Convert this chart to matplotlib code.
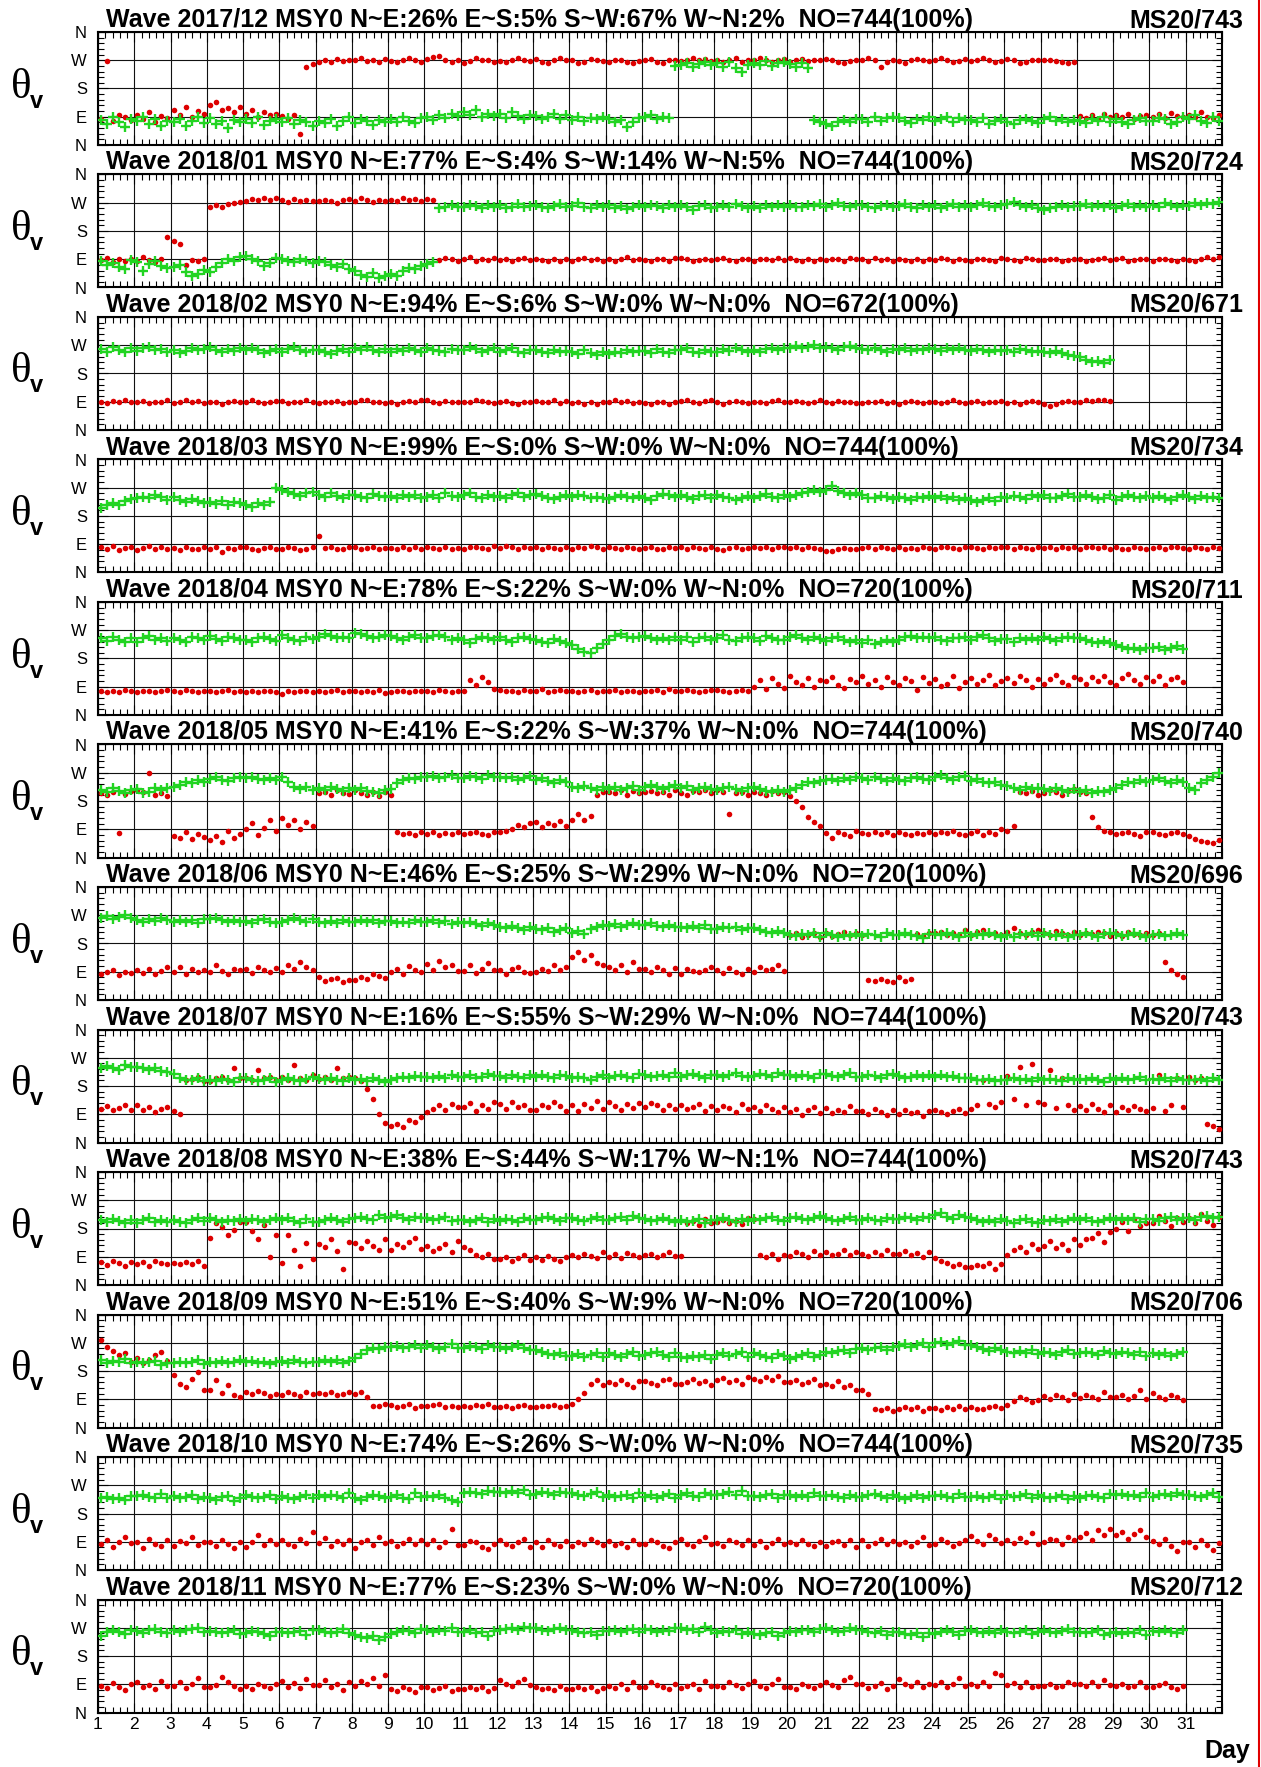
import numpy as np
import matplotlib
matplotlib.use('Agg')
import matplotlib.pyplot as plt
from matplotlib.ticker import MultipleLocator
from matplotlib.lines import Line2D

MONTHS = ['2017/12', '2018/01', '2018/02', '2018/03', '2018/04', '2018/05',
          '2018/06', '2018/07', '2018/08', '2018/09', '2018/10', '2018/11']
PCT_NE = [26, 77, 94, 99, 78, 41, 46, 16, 38, 51, 74, 77]
PCT_ES = [5, 4, 6, 0, 22, 22, 25, 55, 44, 40, 26, 23]
PCT_SW = [67, 14, 0, 0, 0, 37, 29, 29, 17, 9, 0, 0]
PCT_WN = [2, 5, 0, 0, 0, 0, 0, 0, 1, 0, 0, 0]
NO = [744, 744, 672, 744, 720, 744, 720, 744, 744, 720, 744, 720]
MS = [743, 724, 671, 734, 711, 740, 696, 743, 743, 706, 735, 712]
Y_TICK_VALUES = [0, 90, 180, 270, 360]
Y_TICK_LABELS = ['N', 'E', 'S', 'W', 'N']
DAY_LABELS = list(range(1, 32))
SAMPLES_PER_DAY = 6   # values below are read every 4 hours (one day = 6 values)

R1712 = [84, 268, 76, 95, 88, 80,  96, 82, 104, 74, 92, 86,  112, 96, 120, 88, 108, 100,
         128, 137, 110, 118, 104, 122,  98, 112, 90, 106, 94, 100,  92, 84, 96, 35, 250, 258,
         264, 270, 266, 274, 268, 272,  270, 276, 268, 272, 266, 274,  268, 264, 272, 276, 270, 266,
         274, 280, 284, 272, 264, 270,  262, 268, 276, 272, 270, 266,  268, 264, 272, 276, 270, 268,
         274, 266, 262, 270, 276, 272,  270, 262, 266, 274, 270, 268,  264, 270, 272, 266, 260, 268,
         270, 274, 266, 262, 270, 272,  268, 272, 276, 270, 274, 268,  272, 266, 270, 276, 264, 270,
         270, 276, 272, 266, 270, 274,  266, 270, 274, 268, 272, 270,  274, 270, 266, 262, 268, 272,
         270, 276, 272, 250, 266, 270,  268, 262, 270, 274, 272, 268,  272, 276, 270, 264, 268, 274,
         268, 272, 276, 270, 264, 268,  274, 270, 262, 266, 272, 270,  270, 272, 268, 264, 262, 266,
         92, 86, 96, 82, 98, 88,  94, 88, 100, 84, 92, 96,  90, 98, 86, 102, 92, 88,
         96, 88, 104, 90, 86, 94]
G1712 = [80, 66, 88, 72, 58, 84,  76, 90, 68, 82, 62, 78,  72, 84, 60, 76, 88, 70,
         86, 66, 78, 54, 80, 74,  82, 70, 88, 64, 76, 84,  74, 86, 68, 80, 72, 60,
         78, 70, 84, 62, 76, 88,  70, 82, 76, 64, 80, 72,  84, 74, 88, 78, 70, 86,
         88, 80, 94, 86, 100, 92,  106, 96, 110, 88, 98, 92,  98, 86, 104, 92, 82, 96,
         92, 82, 88, 98, 84, 94,  80, 90, 76, 86, 82, 88,  84, 74, 80, 56, 72, 86,
         88, 94, 82, 90, 86, 252,  256, 262, 248, 258, 264, 254,  260, 250, 266, 244, 232, 256,
         262, 256, 268, 252, 260, 264,  258, 248, 262, 244, 80, 74,  66, 60, 72, 80, 74, 84,
         82, 74, 88, 78, 86, 90,  86, 76, 70, 84, 80, 88,  78, 84, 90, 74, 86, 80,
         80, 72, 86, 68, 78, 82,  74, 66, 80, 84, 76, 70,  84, 88, 76, 82, 72, 80,
         76, 70, 84, 78, 88, 74,  82, 72, 66, 80, 86, 76,  78, 86, 82, 66, 74, 88,
         84, 94, 78, 70, 88, 76]

R1801 = [88, 94, 82, 90, 86, 92,  84, 96, 88, 80, 92, 160,  148, 140, 72, 88, 84, 90,
         258, 262, 256, 266, 270, 272,  276, 282, 278, 286, 280, 284,  278, 272, 282, 276, 280, 274,
         274, 280, 276, 270, 278, 282,  276, 284, 278, 272, 280, 276,  280, 274, 286, 278, 282, 276,
         282, 278, 88, 94, 90, 86,  90, 96, 86, 92, 88, 94,  88, 92, 86, 90, 94, 88,
         92, 88, 84, 90, 86, 92,  86, 90, 94, 88, 92, 86,  90, 86, 92, 96, 88, 90,
         88, 84, 90, 92, 86, 94,  94, 90, 86, 88, 92, 88,  90, 94, 88, 84, 90, 92,
         86, 90, 92, 88, 94, 88,  94, 88, 84, 90, 86, 92,  88, 92, 90, 86, 94, 90,
         90, 86, 94, 88, 92, 86,  92, 88, 86, 90, 84, 90,  88, 94, 90, 86, 92, 88,
         86, 90, 92, 88, 86, 94,  90, 88, 86, 94, 90, 88,  88, 92, 90, 86, 88, 92,
         92, 86, 88, 90, 94, 88,  90, 94, 86, 88, 92, 90,  86, 90, 92, 88, 84, 90,
         88, 84, 90, 96, 92, 98]
G1801 = [84, 72, 78, 66, 60, 88,  80, 52, 74, 84, 70, 62,  66, 72, 48, 36, 42, 56,
         50, 64, 78, 90, 84, 96,  100, 92, 86, 70, 78, 94,  92, 86, 80, 90, 84, 78,
         86, 80, 72, 66, 74, 60,  52, 40, 34, 46, 30, 38,  42, 36, 54, 62, 58, 70,
         74, 80, 252, 258, 262, 256,  256, 264, 260, 254, 262, 258,  262, 254, 258, 266, 256, 260,
         264, 258, 252, 260, 266, 258,  260, 268, 256, 252, 262, 258,  262, 254, 260, 250, 258, 264,
         258, 264, 260, 254, 262, 256,  262, 256, 248, 260, 264, 254,  256, 262, 258, 266, 260, 252,
         260, 254, 264, 258, 262, 256,  264, 258, 256, 262, 260, 266,  258, 264, 268, 260, 256, 262,
         262, 256, 252, 260, 264, 258,  260, 266, 258, 254, 262, 256,  262, 254, 260, 266, 258, 262,
         258, 264, 268, 260, 256, 262,  266, 272, 264, 258, 262, 252,  246, 252, 258, 264, 256, 260,
         260, 266, 256, 262, 258, 264,  254, 260, 266, 258, 262, 256,  262, 256, 268, 262, 258, 264,
         260, 268, 262, 270, 266, 272]

R1802 = [90, 86, 92, 88, 94, 88,  88, 92, 86, 90, 88, 94,  86, 90, 94, 88, 92, 86,
         90, 88, 84, 90, 92, 88,  88, 94, 90, 86, 88, 92,  92, 86, 90, 88, 94, 90,
         86, 90, 88, 92, 86, 88,  90, 94, 96, 90, 88, 86,  88, 84, 90, 92, 88, 94,
         94, 90, 86, 92, 88, 90,  90, 88, 96, 92, 88, 86,  88, 92, 86, 84, 90, 88,
         92, 88, 90, 94, 86, 92,  86, 90, 82, 88, 84, 90,  90, 94, 88, 92, 86, 90,
         86, 82, 90, 88, 84, 88,  92, 96, 90, 86, 92, 94,  88, 84, 90, 92, 88, 86,
         90, 88, 86, 92, 94, 90,  88, 92, 90, 86, 88, 94,  90, 86, 92, 88, 90, 86,
         86, 90, 88, 92, 86, 90,  84, 88, 92, 90, 86, 88,  90, 86, 88, 94, 90, 86,
         88, 92, 86, 90, 88, 92,  86, 90, 84, 88, 92, 88,  84, 78, 82, 88, 92, 90,
         90, 94, 92, 96, 94, 92]
G1802 = [258, 250, 264, 254, 248, 260,  252, 260, 266, 254, 258, 248,  256, 246, 252, 262, 254, 258,
         264, 256, 248, 258, 252, 260,  254, 262, 256, 246, 252, 258,  250, 258, 264, 254, 248, 256,
         256, 248, 242, 252, 258, 250,  260, 254, 264, 256, 250, 258,  250, 258, 252, 262, 256, 248,
         262, 256, 252, 248, 258, 254,  256, 264, 258, 250, 256, 262,  248, 254, 260, 250, 246, 256,
         256, 250, 244, 254, 248, 252,  250, 242, 254, 246, 240, 250,  242, 250, 244, 256, 248, 252,
         252, 246, 258, 250, 244, 254,  256, 260, 250, 244, 254, 248,  250, 258, 252, 260, 254, 248,
         254, 248, 258, 262, 256, 260,  262, 268, 260, 264, 270, 262,  266, 260, 256, 264, 268, 260,
         258, 254, 262, 256, 250, 258,  256, 262, 252, 258, 254, 260,  258, 252, 260, 256, 262, 254,
         252, 258, 254, 248, 256, 252,  256, 250, 258, 254, 248, 252,  250, 244, 252, 246, 240, 236,
         232, 224, 216, 220, 214, 222]

R1803 = [80, 74, 84, 72, 78, 82,  72, 78, 84, 76, 80, 74,  78, 72, 80, 76, 74, 82,
         76, 82, 64, 78, 74, 80,  80, 76, 72, 78, 82, 74,  74, 80, 78, 72, 76, 80,
         116, 78, 82, 76, 74, 80,  80, 76, 78, 82, 74, 78,  78, 74, 80, 76, 82, 76,
         82, 78, 76, 80, 74, 78,  76, 80, 82, 78, 76, 84,  78, 84, 80, 76, 82, 78,
         80, 76, 82, 78, 74, 80,  76, 80, 78, 84, 80, 76,  82, 78, 76, 80, 78, 74,
         78, 82, 76, 74, 80, 78,  80, 76, 82, 78, 76, 80,  76, 72, 78, 80, 74, 78,
         82, 78, 80, 76, 80, 82,  78, 82, 76, 80, 78, 74,  70, 68, 74, 78, 76, 74,
         78, 80, 76, 82, 78, 76,  80, 76, 78, 74, 80, 78,  76, 80, 82, 78, 76, 80,
         80, 78, 76, 82, 78, 80,  82, 76, 80, 78, 74, 80,  78, 82, 76, 80, 78, 82,
         76, 80, 82, 78, 80, 76,  80, 76, 74, 80, 78, 74,  78, 82, 76, 80, 82, 78,
         76, 80, 78, 76, 80, 78]
G1803 = [206, 214, 222, 216, 228, 234,  236, 242, 238, 246, 240, 232,  240, 232, 226, 234, 228, 222,
         224, 218, 228, 216, 226, 220,  216, 210, 222, 214, 226, 270,  264, 256, 250, 244, 252, 258,
         246, 240, 252, 244, 238, 248,  248, 242, 236, 250, 244, 240,  244, 236, 248, 240, 246, 238,
         240, 248, 236, 252, 244, 240,  246, 252, 240, 236, 248, 242,  244, 236, 248, 252, 240, 246,
         250, 244, 238, 234, 242, 248,  240, 248, 244, 236, 242, 238,  234, 242, 248, 240, 236, 244,
         238, 230, 244, 250, 246, 240,  246, 240, 234, 244, 248, 238,  248, 242, 236, 230, 238, 244,
         236, 244, 250, 242, 238, 246,  240, 248, 254, 258, 262, 256,  264, 277, 260, 254, 248, 252,
         246, 238, 236, 244, 240, 234,  242, 236, 230, 240, 236, 244,  238, 244, 234, 240, 232, 236,
         230, 224, 232, 238, 228, 240,  236, 244, 240, 234, 246, 242,  246, 238, 236, 244, 250, 242,
         240, 248, 242, 234, 238, 246,  232, 240, 248, 242, 236, 244,  236, 244, 238, 232, 242, 246,
         240, 234, 244, 238, 242, 236]

R1804 = [76, 72, 78, 74, 80, 76,  74, 78, 76, 72, 78, 80,  76, 74, 80, 76, 72, 78,
         78, 72, 76, 80, 74, 76,  74, 78, 72, 76, 78, 74,  66, 76, 74, 78, 76, 72,
         78, 74, 76, 80, 74, 78,  76, 72, 78, 74, 80, 70,  74, 78, 76, 72, 78, 76,
         78, 74, 80, 76, 74, 78,  76, 112, 96, 120, 104, 84,  80, 76, 78, 74, 80, 76,
         76, 82, 74, 78, 80, 76,  78, 74, 76, 80, 74, 78,  76, 80, 72, 78, 76, 74,
         78, 76, 80, 74, 82, 76,  76, 80, 78, 74, 76, 80,  80, 76, 74, 78, 80, 76,
         90, 112, 84, 118, 100, 86,  124, 106, 96, 118, 88, 112,  108, 122, 96, 86, 116, 104,
         124, 98, 112, 88, 120, 104,  96, 118, 108, 80, 122, 102,  114, 92, 100, 124, 86, 106,
         118, 98, 112, 126, 94, 108,  118, 102, 124, 110, 88, 114,  100, 116, 128, 106, 96, 120,
         114, 98, 120, 108, 124, 104,  96, 118, 130, 112, 100, 122,  108, 124, 96, 114, 120, 104]
G1804 = [244, 236, 250, 240, 232, 246,  234, 246, 252, 238, 244, 236,  246, 240, 234, 248, 244, 238,
         252, 242, 236, 248, 244, 240,  240, 232, 246, 250, 242, 236,  254, 246, 240, 236, 248, 242,
         248, 258, 252, 244, 250, 246,  262, 258, 252, 246, 250, 256,  252, 244, 240, 248, 254, 246,
         244, 252, 256, 248, 240, 246,  238, 230, 242, 248, 244, 240,  248, 240, 234, 246, 250, 242,
         240, 234, 228, 242, 236, 230,  222, 210, 200, 196, 212, 226,  240, 252, 258, 250, 244, 248,
         252, 244, 238, 246, 240, 248,  240, 250, 232, 244, 248, 238,  246, 254, 240, 236, 244, 250,
         244, 236, 252, 246, 240, 238,  248, 256, 244, 238, 250, 242,  236, 244, 250, 240, 232, 238,
         230, 238, 226, 234, 240, 232,  240, 248, 252, 244, 250, 246,  248, 240, 236, 246, 244, 250,
         240, 248, 254, 246, 236, 242,  242, 234, 246, 238, 244, 240,  248, 242, 236, 246, 250, 244,
         244, 238, 232, 228, 236, 230,  222, 216, 210, 214, 206, 212,  212, 218, 206, 214, 220, 210]

R1805 = [205, 198, 210, 78, 202, 212,  214, 208, 268, 200, 206, 196,  70, 62, 80, 58, 74, 66,
         55, 70, 48, 85, 62, 76,  90, 110, 72, 95, 118, 84,  125, 105, 118, 90, 112, 100,
         205, 210, 198, 214, 206, 202,  214, 206, 200, 210, 196, 208,  200, 80, 75, 78, 72, 82,
         76, 80, 72, 78, 74, 80,  74, 78, 82, 76, 72, 80,  80, 86, 92, 104, 96, 110,
         112, 98, 110, 104, 116, 100,  120, 140, 118, 132, 200, 208,  210, 206, 215, 200, 212, 204,
         208, 212, 204, 210, 200, 214,  206, 200, 212, 208, 216, 204,  214, 208, 140, 204, 210, 198,
         210, 206, 200, 212, 204, 208,  196, 180, 160, 130, 112, 100,  78, 62, 80, 76, 70, 84,
         78, 74, 80, 76, 82, 72,  80, 76, 72, 78, 74, 80,  74, 80, 78, 84, 76, 72,
         78, 86, 72, 80, 76, 90,  84, 100, 210, 205, 212, 200,  206, 214, 208, 200, 212, 218,
         210, 204, 130, 96, 84, 80,  76, 78, 82, 74, 70, 80,  80, 76, 72, 78, 82, 74,
         70, 60, 52, 48, 45, 56]
G1805 = [215, 208, 220, 212, 204, 216,  218, 205, 210, 222, 214, 220,  226, 232, 240, 236, 246, 242,
         250, 256, 248, 244, 252, 258,  252, 258, 250, 246, 254, 248,  256, 240, 226, 218, 224, 216,
         222, 216, 224, 218, 212, 220,  214, 220, 212, 210, 206, 214,  218, 236, 248, 254, 250, 258,
         256, 260, 252, 258, 264, 254,  254, 260, 256, 250, 262, 258,  256, 252, 258, 248, 254, 260,
         246, 252, 244, 238, 246, 240,  226, 220, 228, 222, 216, 224,  218, 224, 216, 222, 228, 214,
         226, 232, 224, 218, 226, 230,  222, 228, 214, 220, 226, 218,  216, 222, 226, 218, 212, 220,
         224, 218, 212, 208, 216, 210,  214, 222, 232, 240, 236, 244,  246, 250, 244, 252, 248, 256,
         254, 248, 256, 250, 244, 252,  248, 244, 252, 256, 250, 246,  258, 262, 254, 248, 256, 260,
         244, 250, 242, 236, 240, 232,  228, 220, 216, 224, 218, 222,  218, 212, 222, 216, 210, 218,
         210, 214, 206, 212, 208, 216,  220, 232, 242, 238, 246, 240,  246, 252, 244, 236, 248, 240,
         222, 214, 238, 248, 258, 268]

R1806 = [82, 88, 94, 80, 90, 86,  96, 86, 100, 84, 92, 104,  90, 104, 82, 98, 88, 94,
         88, 110, 92, 84, 100, 96,  100, 86, 106, 94, 88, 102,  90, 112, 98, 120, 104, 94,
         72, 62, 66, 70, 58, 64,  64, 72, 68, 84, 76, 70,  90, 100, 82, 108, 96, 88,
         116, 96, 124, 104, 110, 92,  92, 110, 86, 100, 118, 96,  94, 84, 98, 104, 90, 86,
         88, 100, 92, 112, 96, 106,  138, 152, 126, 144, 118, 110,  104, 96, 112, 88, 120, 100,
         98, 90, 106, 94, 84, 102,  84, 100, 92, 88, 96, 106,  96, 86, 102, 90, 84, 98,
         88, 104, 94, 100, 112, 92,  206, 212, 200, 208, 214, 202,  214, 204, 210, 216, 206, 212,
         206, 64, 60, 68, 62, 58,  72, 62, 66, 210, 204, 212,  212, 218, 206, 214, 208, 222,
         208, 216, 222, 210, 214, 206,  218, 230, 212, 206, 216, 222,  214, 208, 220, 212, 206, 216,
         206, 214, 210, 218, 212, 204,  212, 204, 216, 210, 208, 214,  208, 214, 122, 96, 84, 74]
G1806 = [262, 268, 258, 264, 270, 260,  256, 250, 258, 252, 262, 254,  248, 256, 250, 254, 244, 258,
         258, 262, 254, 248, 256, 250,  252, 246, 254, 258, 250, 244,  250, 256, 262, 254, 248, 258,
         248, 244, 252, 246, 254, 250,  250, 256, 248, 254, 244, 252,  252, 246, 250, 244, 256, 248,
         248, 254, 246, 252, 242, 250,  244, 250, 242, 236, 246, 240,  234, 228, 236, 230, 224, 232,
         226, 222, 228, 218, 224, 230,  214, 220, 210, 226, 232, 238,  236, 242, 234, 240, 246, 238,
         238, 244, 236, 232, 240, 234,  234, 228, 236, 230, 238, 226,  226, 232, 228, 234, 222, 230,
         230, 224, 218, 212, 220, 214,  208, 204, 210, 206, 212, 200,  212, 206, 200, 208, 204, 210,
         204, 210, 206, 200, 212, 206,  206, 212, 208, 204, 198, 210,  210, 206, 214, 208, 202, 212,
         204, 210, 206, 212, 208, 200,  208, 202, 210, 206, 214, 204,  212, 206, 204, 210, 200, 208,
         206, 212, 208, 202, 210, 214,  210, 204, 208, 212, 206, 200,  206, 210, 204, 208, 212, 206]

R1807 = [108, 116, 102, 110, 120, 104,  118, 104, 112, 96, 108, 114,  100, 92, 198, 202, 210, 196,
         196, 204, 208, 200, 236, 206,  206, 198, 232, 204, 210, 200,  210, 200, 246, 206, 198, 214,
         202, 208, 198, 236, 204, 210,  204, 196, 170, 140, 90, 62,  52, 60, 48, 72, 66, 80,
         96, 108, 118, 104, 124, 112,  112, 126, 100, 118, 106, 130,  124, 108, 130, 114, 120, 104,
         104, 120, 112, 128, 116, 100,  118, 100, 124, 110, 132, 106,  130, 116, 104, 122, 110, 126,
         112, 126, 118, 102, 120, 108,  120, 108, 114, 124, 100, 116,  104, 116, 110, 98, 122, 106,
         112, 100, 120, 106, 96, 114,  96, 108, 88, 102, 112, 94,  110, 94, 104, 98, 116, 100,
         100, 92, 106, 96, 88, 104,  90, 102, 94, 98, 86, 100,  104, 96, 92, 100, 108, 94,
         108, 118, 200, 124, 112, 130,  212, 138, 240, 120, 250, 128,  122, 230, 110, 206, 118, 104,
         116, 102, 124, 108, 96, 120,  98, 112, 104, 116, 108, 100,  110, 214, 100, 120, 206, 112,
         208, 198, 204, 60, 52, 44]
G1807 = [236, 244, 238, 232, 246, 240,  242, 236, 230, 238, 228, 224,  218, 206, 200, 198, 204, 196,
         200, 196, 202, 198, 194, 204,  204, 198, 196, 200, 206, 194,  198, 204, 200, 196, 202, 208,
         202, 198, 204, 200, 196, 206,  198, 202, 196, 204, 200, 194,  200, 206, 210, 204, 212, 208,
         210, 206, 212, 204, 216, 210,  208, 214, 206, 210, 218, 212,  212, 206, 216, 210, 204, 214,
         208, 214, 210, 206, 216, 212,  204, 210, 206, 200, 208, 214,  206, 212, 216, 210, 204, 218,
         214, 208, 212, 216, 210, 220,  210, 214, 218, 212, 206, 216,  216, 210, 214, 220, 212, 208,
         212, 218, 214, 208, 220, 214,  214, 210, 216, 212, 206, 218,  218, 212, 208, 214, 220, 210,
         210, 216, 212, 206, 214, 218,  212, 206, 210, 216, 208, 214,  210, 214, 208, 212, 204, 206,
         204, 200, 198, 202, 196, 200,  200, 204, 198, 202, 196, 206,  198, 202, 200, 196, 204, 198,
         202, 198, 204, 200, 194, 206,  198, 204, 200, 202, 208, 198,  202, 200, 204, 196, 206, 200,
         200, 198, 202, 196, 204, 198]

R1808 = [72, 64, 78, 70, 60, 74,  68, 74, 62, 76, 70, 66,  70, 66, 74, 68, 76, 62,
         150, 196, 184, 160, 176, 202,  200, 172, 148, 190, 90, 160,  70, 160, 110, 62, 135, 84,
         130, 120, 145, 108, 52, 138,  135, 118, 140, 125, 112, 146,  112, 130, 120, 138, 150, 116,
         125, 108, 118, 132, 104, 140,  120, 110, 96, 88, 100, 84,  82, 90, 76, 86, 94, 80,
         88, 80, 92, 84, 78, 90,  96, 88, 100, 92, 86, 104,  90, 98, 86, 102, 94, 88,
         94, 100, 88, 96, 104, 92,  92, 198, 205, 192, 210, 196,  200, 208, 196, 204, 194, 212,
         210, 96, 88, 100, 84, 94,  92, 104, 98, 90, 108, 96,  106, 96, 100, 110, 94, 104,
         98, 92, 104, 96, 112, 100,  100, 108, 94, 102, 90, 106,  86, 78, 70, 62, 66, 58,
         58, 64, 60, 70, 52, 66,  96, 110, 120, 104, 130, 116,  125, 140, 118, 132, 110, 146,
         128, 145, 150, 165, 138, 170,  180, 200, 172, 210, 188, 196,  196, 220, 205, 188, 212, 200,
         212, 198, 226, 204, 190, 216]
G1808 = [206, 200, 210, 204, 198, 208,  198, 206, 212, 202, 208, 200,  208, 202, 198, 206, 212, 204,
         212, 206, 200, 208, 204, 210,  204, 210, 206, 200, 208, 214,  206, 212, 204, 198, 210, 202,
         202, 208, 214, 206, 200, 210,  212, 218, 210, 206, 222, 214,  216, 222, 214, 208, 218, 212,
         212, 206, 210, 216, 204, 208,  208, 202, 206, 212, 200, 210,  204, 210, 206, 200, 212, 206,
         206, 212, 218, 210, 204, 214,  214, 208, 204, 210, 216, 206,  206, 212, 216, 208, 220, 212,
         210, 204, 208, 214, 206, 200,  206, 200, 204, 210, 198, 206,  208, 214, 206, 202, 210, 204,
         210, 206, 212, 216, 208, 204,  212, 218, 210, 206, 214, 220,  214, 208, 204, 210, 218, 206,
         206, 212, 208, 204, 214, 210,  210, 216, 212, 206, 218, 212,  222, 228, 216, 210, 224, 218,
         212, 206, 202, 208, 200, 210,  204, 198, 206, 210, 202, 196,  208, 204, 210, 200, 206, 212,
         206, 212, 204, 200, 208, 214,  208, 214, 206, 212, 200, 210,  210, 204, 212, 218, 206, 214,
         214, 208, 216, 220, 212, 218]

R1809 = [280, 258, 245, 230, 238, 210,  222, 206, 215, 230, 240, 212,  168, 140, 130, 155, 176, 120,
         120, 150, 110, 135, 104, 96,  112, 106, 116, 110, 100, 108,  104, 112, 108, 100, 114, 106,
         110, 106, 114, 102, 108, 112,  108, 112, 96, 70, 68, 74,  72, 66, 70, 74, 62, 68,
         68, 72, 76, 66, 70, 64,  70, 64, 72, 68, 74, 66,  66, 70, 62, 68, 72, 64,
         64, 70, 68, 72, 66, 70,  76, 90, 110, 140, 150, 136,  146, 138, 152, 140, 130, 148,
         148, 142, 136, 150, 156, 140,  138, 146, 154, 142, 148, 136,  150, 158, 144, 152, 140, 160,
         156, 148, 160, 152, 164, 144,  144, 152, 138, 146, 156, 134,  140, 132, 148, 128, 136, 120,
         118, 106, 60, 56, 62, 54,  58, 64, 60, 66, 52, 62,  62, 56, 64, 60, 68, 58,
         66, 60, 58, 64, 70, 62,  72, 84, 96, 90, 80, 88,  100, 92, 104, 96, 88, 108,
         94, 102, 98, 90, 112, 96,  96, 104, 92, 100, 118, 90,  110, 98, 92, 104, 96, 88]
G1809 = [214, 206, 212, 208, 218, 204,  210, 204, 208, 212, 200, 206,  206, 210, 204, 208, 214, 202,
         210, 206, 212, 204, 208, 214,  208, 212, 206, 210, 202, 208,  212, 206, 214, 208, 204, 210,
         210, 214, 208, 216, 206, 212,  220, 234, 246, 254, 250, 256,  256, 260, 252, 258, 264, 254,
         262, 256, 250, 258, 266, 252,  254, 260, 256, 250, 262, 258,  256, 250, 258, 262, 254, 248,
         248, 240, 234, 230, 238, 228,  228, 234, 226, 232, 238, 224,  236, 230, 226, 234, 240, 228,
         230, 236, 240, 232, 226, 238,  226, 220, 228, 224, 232, 218,  230, 236, 228, 234, 240, 226,
         238, 232, 226, 222, 234, 228,  218, 226, 232, 238, 224, 230,  242, 236, 244, 248, 238, 250,
         252, 246, 254, 258, 248, 256,  260, 266, 258, 262, 270, 256,  268, 272, 264, 268, 276, 262,
         262, 256, 250, 244, 254, 248,  240, 236, 244, 238, 246, 234,  242, 236, 232, 240, 246, 234,
         236, 242, 238, 230, 244, 236,  234, 240, 236, 232, 242, 228,  238, 230, 236, 228, 234, 240]

R1810 = [82, 96, 74, 90, 104, 86,  88, 70, 100, 84, 76, 94,  76, 92, 86, 104, 80, 90,
         90, 78, 96, 84, 70, 88,  72, 88, 110, 80, 94, 84,  94, 82, 76, 98, 86, 120,
         86, 102, 78, 92, 84, 96,  70, 88, 96, 80, 104, 86,  92, 76, 86, 100, 82, 94,
         84, 96, 72, 90, 130, 80,  80, 92, 88, 74, 66, 84,  96, 84, 78, 90, 100, 72,
         88, 72, 94, 82, 76, 92,  76, 90, 84, 98, 88, 80,  92, 80, 86, 74, 96, 84,
         84, 96, 90, 78, 70, 88,  98, 84, 76, 92, 106, 82,  86, 78, 94, 88, 80, 96,
         80, 92, 74, 86, 100, 84,  90, 82, 96, 84, 76, 88,  76, 88, 92, 80, 96, 72,
         94, 78, 86, 100, 84, 92,  82, 90, 76, 88, 104, 80,  84, 98, 90, 78, 86, 94,
         108, 92, 84, 112, 98, 86,  96, 86, 102, 90, 118, 84,  88, 100, 94, 84, 106, 96,
         104, 118, 96, 126, 110, 132,  112, 122, 100, 116, 128, 106,  92, 84, 98, 78, 60, 88,
         88, 72, 94, 80, 64, 86]
G1810 = [228, 234, 226, 230, 222, 236,  236, 240, 234, 230, 242, 228,  236, 228, 232, 238, 226, 234,
         230, 224, 232, 236, 220, 228,  240, 234, 228, 232, 238, 226,  236, 230, 226, 234, 240, 228,
         238, 232, 240, 236, 230, 244,  228, 222, 234, 240, 236, 230,  232, 238, 230, 226, 244, 234,
         236, 232, 240, 228, 222, 218,  244, 250, 246, 242, 252, 248,  248, 244, 252, 246, 256, 240,
         242, 248, 244, 238, 250, 246,  246, 240, 236, 242, 248, 234,  238, 232, 236, 240, 230, 244,
         234, 238, 230, 236, 242, 228,  240, 244, 236, 232, 246, 238,  238, 242, 248, 240, 252, 236,
         236, 232, 238, 242, 230, 240,  240, 234, 238, 232, 244, 236,  236, 240, 232, 228, 238, 234,
         234, 238, 242, 236, 230, 240,  232, 226, 234, 238, 228, 236,  236, 240, 234, 230, 242, 232,
         232, 236, 228, 234, 240, 226,  238, 232, 236, 242, 230, 238,  234, 228, 232, 238, 226, 236,
         230, 236, 240, 234, 228, 242,  238, 242, 236, 240, 232, 246,  234, 238, 242, 236, 244, 240,
         240, 236, 232, 238, 244, 234]

R1811 = [86, 78, 94, 82, 72, 90,  96, 80, 88, 76, 100, 84,  84, 98, 78, 90, 110, 82,
         80, 88, 112, 96, 84, 74,  84, 76, 92, 86, 78, 90,  100, 82, 94, 78, 106, 88,
         88, 104, 80, 92, 72, 96,  86, 100, 92, 110, 84, 120,  76, 70, 82, 74, 66, 80,
         80, 72, 78, 84, 70, 76,  76, 82, 74, 80, 68, 78,  102, 90, 84, 96, 106, 88,
         80, 74, 78, 72, 84, 76,  76, 82, 74, 80, 70, 78,  84, 78, 90, 76, 96, 82,
         82, 96, 88, 80, 74, 90,  78, 84, 92, 76, 100, 86,  86, 80, 96, 88, 78, 92,
         100, 84, 78, 92, 106, 82,  82, 76, 90, 84, 78, 88,  96, 88, 80, 104, 112, 90,
         90, 78, 86, 94, 76, 84,  108, 92, 84, 98, 80, 90,  88, 96, 80, 90, 110, 86,
         92, 86, 98, 84, 126, 120,  88, 94, 82, 96, 80, 86,  84, 90, 80, 86, 98, 92,
         92, 86, 98, 84, 104, 88,  84, 90, 80, 86, 96, 82,  82, 88, 94, 80, 76, 84]
G1811 = [245, 256, 262, 258, 250, 264,  260, 254, 262, 266, 258, 252,  264, 258, 262, 266, 270, 256,
         260, 256, 252, 258, 264, 250,  254, 260, 256, 250, 244, 258,  258, 252, 256, 260, 248, 262,
         262, 256, 252, 258, 266, 254,  248, 242, 236, 244, 232, 240,  250, 258, 264, 260, 254, 266,
         262, 256, 264, 260, 268, 258,  258, 262, 252, 256, 244, 260,  262, 266, 270, 264, 272, 268,
         268, 264, 260, 266, 270, 262,  262, 258, 252, 256, 248, 260,  260, 264, 258, 262, 266, 256,
         266, 262, 258, 264, 260, 268,  270, 262, 266, 258, 272, 264,  254, 260, 256, 262, 250, 258,
         250, 246, 252, 258, 244, 254,  260, 256, 262, 264, 258, 266,  268, 262, 256, 260, 270, 264,
         264, 258, 254, 260, 248, 256,  256, 250, 246, 254, 242, 252,  250, 258, 262, 256, 248, 260,
         262, 258, 254, 260, 252, 264,  258, 252, 256, 262, 250, 258,  262, 258, 254, 260, 266, 256,
         258, 252, 256, 262, 248, 254,  256, 250, 258, 254, 262, 248,  260, 256, 262, 258, 252, 264]

RED = [R1712, R1801, R1802, R1803, R1804, R1805, R1806, R1807, R1808, R1809, R1810, R1811]
GREEN = [G1712, G1801, G1802, G1803, G1804, G1805, G1806, G1807, G1808, G1809, G1810, G1811]

# ---------------- layout (pixels of a 1261x1767 canvas) ----------------
FW, FH = 1261, 1767
def fx(px):
    return px / FW
def fy(py):
    return 1 - py / FH

AX_L, AX_R = 98, 1222
TOP0, PITCH, AX_H = 32, 142.5, 113
SANS = 'Liberation Sans'
RED_C = '#dd0000'
GRN_C = '#22d422'

fig = plt.figure(figsize=(FW / 100, FH / 100), dpi=100)
fig.patch.set_facecolor('white')

n_panels = len(MONTHS)
for i in range(n_panels):
    top = TOP0 + i * PITCH
    ax = fig.add_axes([fx(AX_L), fy(top + AX_H), (AX_R - AX_L) / FW, AX_H / FH])
    ax.set_xlim(1, 32)
    ax.set_ylim(0, 360)

    r = np.array(RED[i], dtype=float)
    g = np.array(GREEN[i], dtype=float)
    tr = 1 + (np.arange(len(r)) + 0.5) / SAMPLES_PER_DAY
    tg = 1 + (np.arange(len(g)) + 0.5) / SAMPLES_PER_DAY
    ax.plot(tr, r, 'o', color=RED_C, ms=4.0, mec='none', zorder=3)
    ax.plot(tg, g, '+', color=GRN_C, ms=6.8, mew=1.7, zorder=4)

    ax.set_yticks(Y_TICK_VALUES)
    ax.set_yticklabels(Y_TICK_LABELS, fontsize=12, family=SANS)
    ax.yaxis.set_minor_locator(MultipleLocator(18))
    ax.set_xticks(list(range(1, 33)))
    ax.xaxis.set_minor_locator(MultipleLocator(0.2))
    if i == n_panels - 1:
        ax.set_xticklabels([str(d) for d in DAY_LABELS] + [''], fontsize=12.5, family=SANS)
    else:
        ax.set_xticklabels([])

    ax.tick_params(which='both', direction='in', top=True, right=True)
    ax.tick_params(which='major', length=7, width=0.8, pad=3)
    ax.tick_params(axis='y', which='major', pad=8)
    ax.tick_params(which='minor', length=4, width=0.8)
    ax.grid(True, which='major', color='#111111', lw=0.8)
    ax.set_axisbelow(True)
    for s in ax.spines.values():
        s.set_linewidth(1.5)

    title = (f"Wave {MONTHS[i]} MSY0 N~E:{PCT_NE[i]}% E~S:{PCT_ES[i]}% "
             f"S~W:{PCT_SW[i]}% W~N:{PCT_WN[i]}%  NO={NO[i]}(100%)")
    fig.text(fx(106), fy(top - 5), title, ha='left', va='baseline',
             fontsize=18, fontweight='bold', family=SANS)
    fig.text(fx(1243), fy(top - 5), f"MS20/{MS[i]}", ha='right', va='baseline',
             fontsize=18, fontweight='bold', family=SANS)

    cy = top + AX_H / 2
    fig.text(fx(11), fy(cy + 9), '\u03b8', ha='left', va='baseline',
             fontsize=31, family='Liberation Serif')
    fig.text(fx(30), fy(cy + 19), 'v', ha='left', va='baseline',
             fontsize=17, fontweight='bold', family=SANS)

fig.text(fx(1250), fy(1751), 'Day', ha='right', va='center',
         fontsize=18, fontweight='bold', family=SANS)
fig.add_artist(Line2D([fx(1259), fx(1259)], [0, 1], color='#e00000', lw=1.5,
                      transform=fig.transFigure))

fig.savefig('out.png', dpi=100)
